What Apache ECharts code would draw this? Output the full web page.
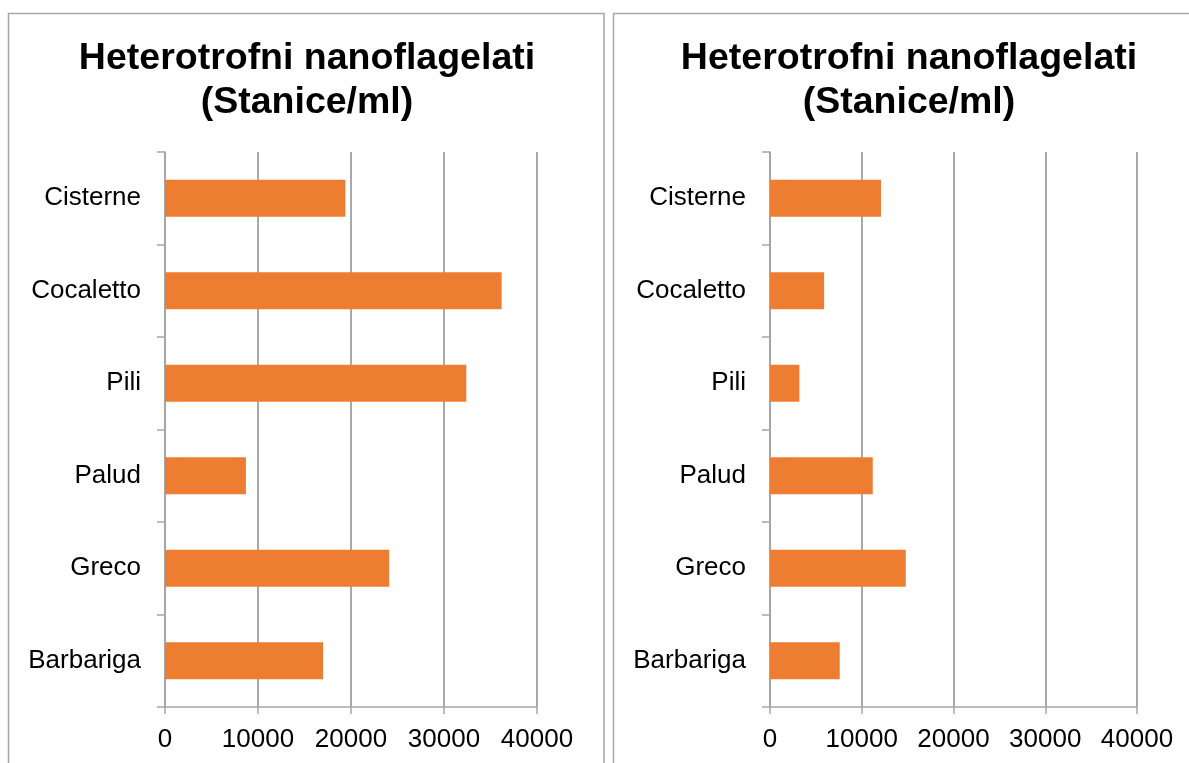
<!DOCTYPE html>
<html>
<head>
<meta charset="utf-8">
<script src="https://cdn.jsdelivr.net/npm/echarts@6/dist/echarts.min.js"></script>
<style>
html,body{margin:0;padding:0;background:#fff;}
#chart{width:1189px;height:763px;}
</style>
</head>
<body>
<div id="chart"></div>
<script>
var categories = ['Cisterne', 'Cocaletto', 'Pili', 'Palud', 'Greco', 'Barbariga'];
var valuesLeft = [19400, 36200, 32400, 8700, 24100, 17000];
var valuesRight = [12100, 5900, 3200, 11200, 14800, 7600];
var titleText = 'Heterotrofni nanoflagelati\n(Stanice/ml)';
var xTicks = [0, 10000, 20000, 30000, 40000];

var FONT = 'Liberation Sans, Arial, sans-serif';
var chart = echarts.init(document.getElementById('chart'));

function xAxisDef(gi) {
  return {
    type: 'value', gridIndex: gi, min: xTicks[0], max: xTicks[xTicks.length - 1], interval: xTicks[1] - xTicks[0],
    axisLine: {show: true, lineStyle: {color: '#a6a6a6', width: 1.5}},
    axisTick: {show: true, length: 7, lineStyle: {color: '#a6a6a6', width: 1.5}},
    axisLabel: {color: '#000', fontFamily: FONT, fontSize: 26, margin: 20,
      formatter: function (v) { return String(v); }},
    splitLine: {show: true, lineStyle: {color: '#8c8c8c', width: 1.5}}
  };
}
function yAxisDef(gi) {
  return {
    type: 'category', gridIndex: gi, data: categories, inverse: true,
    axisLine: {show: true, lineStyle: {color: '#a6a6a6', width: 1.5}},
    axisTick: {show: true, length: 8, lineStyle: {color: '#a6a6a6', width: 1.5}},
    axisLabel: {color: '#000', fontFamily: FONT, fontSize: 26, margin: 24, padding: [4, 0, 0, 0]},
    splitLine: {show: false}
  };
}

chart.setOption({
  animation: false,
  title: [
    {text: titleText, left: 307, top: 37, textAlign: 'center', padding: 0,
     textStyle: {fontFamily: FONT, fontSize: 37.5, fontWeight: 'bold', color: '#000', lineHeight: 44}},
    {text: titleText, left: 909, top: 37, textAlign: 'center', padding: 0,
     textStyle: {fontFamily: FONT, fontSize: 37.5, fontWeight: 'bold', color: '#000', lineHeight: 44}}
  ],
  graphic: [
    {type: 'rect', shape: {x: 8.5, y: 13.5, width: 595.5, height: 800}, style: {fill: 'none', stroke: '#a6a6a6', lineWidth: 1.5}, z: -10},
    {type: 'rect', shape: {x: 613.5, y: 13.5, width: 640, height: 800}, style: {fill: 'none', stroke: '#a6a6a6', lineWidth: 1.5}, z: -10}
  ],
  grid: [
    {left: 165, top: 152, width: 372, height: 555},
    {left: 770, top: 152, width: 367, height: 555}
  ],
  xAxis: [xAxisDef(0), xAxisDef(1)],
  yAxis: [yAxisDef(0), yAxisDef(1)],
  series: [
    {type: 'bar', xAxisIndex: 0, yAxisIndex: 0, data: valuesLeft, barWidth: '40%', itemStyle: {color: '#ED7D31'}},
    {type: 'bar', xAxisIndex: 1, yAxisIndex: 1, data: valuesRight, barWidth: '40%', itemStyle: {color: '#ED7D31'}}
  ]
});
</script>
</body>
</html>
